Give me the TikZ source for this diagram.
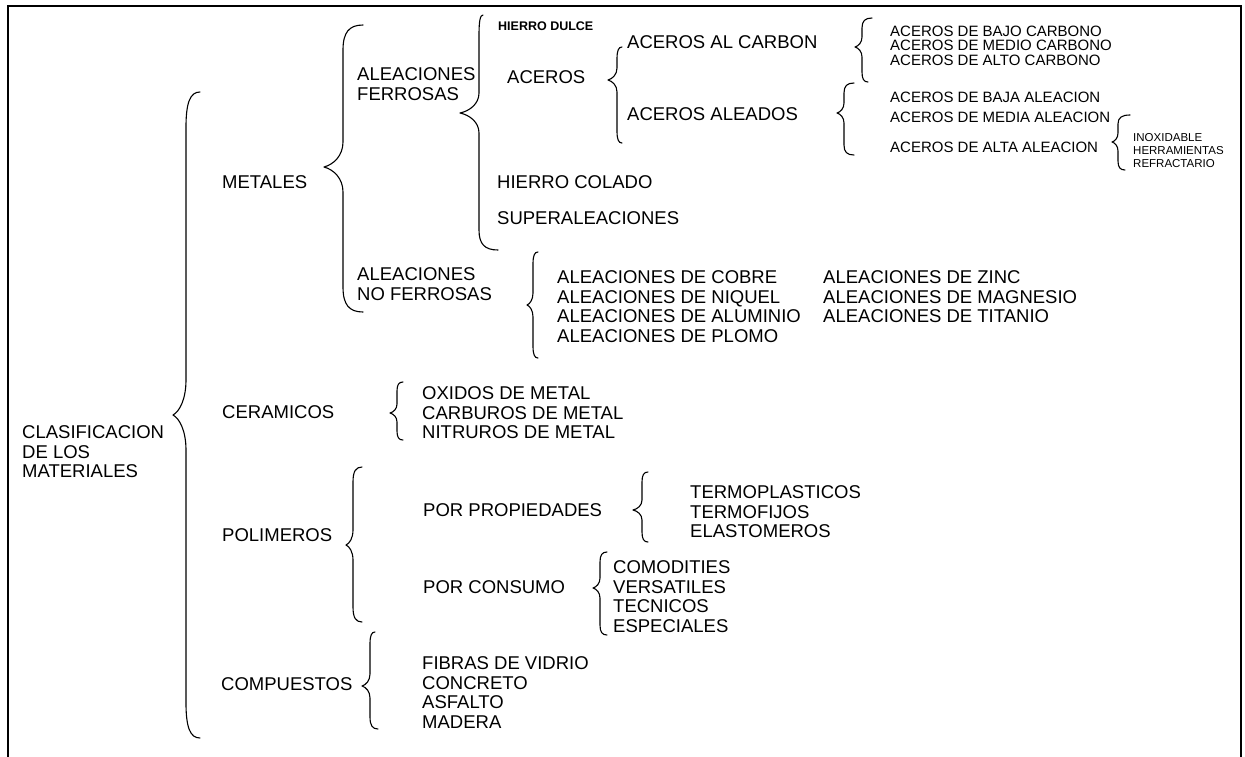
\documentclass[tikz,border=0pt]{standalone}
\usepackage{fontspec}
\setmainfont{Liberation Sans}

% Curly brace: #1 stem x, #2 top y, #3 tip y, #4 bottom y,
% #5 top hook length, #6 bottom hook length, #7 tip depth, #8 curl height
\newcommand{\drawbrace}[8]{%
  \draw[bracestyle] ({#1+#5},#2) .. controls ({#1+0.3*#5},#2) and (#1,{#2+0.3*#8}) .. (#1,{#2+#8})
    -- (#1,{#3-#8}) .. controls (#1,{#3-0.45*#8}) and ({#1-0.5*#7},{#3-0.1*#8}) .. ({#1-#7},#3)
    .. controls ({#1-0.5*#7},{#3+0.1*#8}) and (#1,{#3+0.45*#8}) .. (#1,{#3+#8})
    -- (#1,{#4-#8}) .. controls (#1,{#4-0.3*#8}) and ({#1+0.3*#6},#4) .. ({#1+#6},#4);}

\tikzset{
  lblmain/.style={anchor=north west, inner sep=0pt, align=left,
    font=\fontsize{18.5}{19.7}\selectfont},
  lblsmall/.style={anchor=north west, inner sep=0pt, align=left,
    font=\fontsize{15}{14.5}\selectfont},
  lbltiny/.style={anchor=north west, inner sep=0pt, align=left,
    font=\fontsize{11.5}{13}\selectfont},
  lblbold/.style={anchor=north west, inner sep=0pt, align=left,
    font=\bfseries\fontsize{12.5}{14}\selectfont},
  bracestyle/.style={line width=1.1pt, line cap=round, line join=round},
  framestyle/.style={line width=2.5pt}
}

\begin{document}
\begin{tikzpicture}[x=1pt, y=-1pt]
\useasboundingbox (0,0) rectangle (1245,756);

% outer frame
\draw[framestyle] (8,757) -- (8,6) -- (1241,6) -- (1241,757);

% root
\node[lblmain] (root) at (22,425.4) {CLASIFICACION\\DE LOS\\MATERIALES};
\drawbrace{186}{92}{415}{738}{14}{14}{13}{35}

% metals
\node[lblmain] (metales) at (222,175.4) {METALES};
\drawbrace{343}{25}{167}{312}{20}{20}{19}{25}
\node[lblmain] (ferrosas) at (357,67.4) {ALEACIONES\\FERROSAS};
\drawbrace{479}{15}{113}{250}{4}{19}{19}{20}
\node[lblbold] (dulce) at (498,21.5) {HIERRO DULCE};
\node[lblmain] (aceros) at (507,70.4) {ACEROS};
\drawbrace{617}{47}{80}{143}{5}{5}{9}{12}
\node[lblmain] (alcarbon) at (627,35.4) {ACEROS AL CARBON};
\node[lblmain] (aleados) at (627,107.4) {ACEROS ALEADOS};
\drawbrace{862}{18}{47}{82}{10}{6}{7}{10}
\node[lblsmall] (carbonos) at (890,25.6) {ACEROS DE BAJO CARBONO\\ACEROS DE MEDIO CARBONO\\ACEROS DE ALTO CARBONO};
\drawbrace{844}{83}{113}{155}{10}{10}{7}{10}
\node[lblsmall] (baja) at (890,91.6) {ACEROS DE BAJA ALEACION};
\node[lblsmall] (media) at (890,111.6) {ACEROS DE MEDIA ALEACION};
\node[lblsmall] (alta) at (890,141.6) {ACEROS DE ALTA ALEACION};
\drawbrace{1118}{115}{142}{170}{12}{7}{6}{9}
\node[lbltiny] (altatipos) at (1133,132.9) {INOXIDABLE\\HERRAMIENTAS\\REFRACTARIO};
\node[lblmain] (colado) at (497,175.4) {HIERRO COLADO};
\node[lblmain] (super) at (497,211.4) {SUPERALEACIONES};
\node[lblmain] (noferrosas) at (357,267.4) {ALEACIONES\\NO FERROSAS};
\drawbrace{533}{252}{305}{358}{5}{5}{6}{12}
\node[lblmain] (nofer1) at (557,270.4) {ALEACIONES DE COBRE\\ALEACIONES DE NIQUEL\\ALEACIONES DE ALUMINIO\\ALEACIONES DE PLOMO};
\node[lblmain] (nofer2) at (823,270.4) {ALEACIONES DE ZINC\\ALEACIONES DE MAGNESIO\\ALEACIONES DE TITANIO};

% ceramics
\node[lblmain] (ceramicos) at (222,405.4) {CERAMICOS};
\drawbrace{397}{382}{413}{440}{6}{6}{7}{9}
\node[lblmain] (ceramtipos) at (422,386.4) {OXIDOS DE METAL\\CARBUROS DE METAL\\NITRUROS DE METAL};

% polymers
\node[lblmain] (polimeros) at (222,528.4) {POLIMEROS};
\drawbrace{353}{467}{545}{622}{9}{9}{7}{15}
\node[lblmain] (propiedades) at (423,503.4) {POR PROPIEDADES};
\drawbrace{642}{472}{510}{542}{6}{6}{9}{10}
\node[lblmain] (proptipos) at (690,485.4) {TERMOPLASTICOS\\TERMOFIJOS\\ELASTOMEROS};
\node[lblmain] (consumo) at (423,580.4) {POR CONSUMO};
\drawbrace{600}{552}{588}{635}{7}{7}{7}{10}
\node[lblmain] (constipos) at (613,560.4) {COMODITIES\\VERSATILES\\TECNICOS\\ESPECIALES};

% composites
\node[lblmain] (compuestos) at (221,677.4) {COMPUESTOS};
\drawbrace{370}{632}{686}{729}{5}{8}{8}{12}
\node[lblmain] (comptipos) at (422,656.4) {FIBRAS DE VIDRIO\\CONCRETO\\ASFALTO\\MADERA};
\end{tikzpicture}
\end{document}
